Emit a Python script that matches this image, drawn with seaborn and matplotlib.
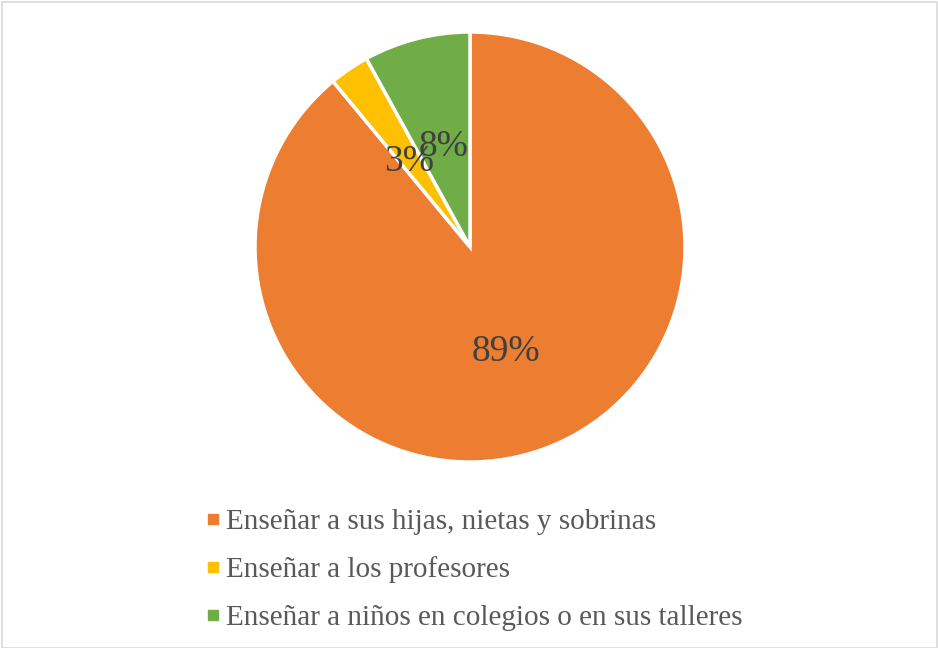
import matplotlib
matplotlib.use("Agg")
import matplotlib.pyplot as plt
from matplotlib.lines import Line2D
from matplotlib.patches import Rectangle
import seaborn as sns

categories = [
    "Enseñar a sus hijas, nietas y sobrinas",
    "Enseñar a los profesores",
    "Enseñar a niños en colegios o en sus talleres",
]
values = [89, 3, 8]
colors = ["#ED7D31", "#FFC000", "#70AD47"]

sns.set_theme(style="white")
plt.rcParams["font.family"] = ["Liberation Serif", "DejaVu Serif"]

fig = plt.figure(figsize=(9.38, 6.48), dpi=100)
ax = fig.add_axes([255 / 938, (648 - 462) / 648, 430 / 938, 430 / 648])

wedges, texts, autotexts = ax.pie(
    values,
    colors=colors,
    startangle=90,
    counterclock=False,
    autopct=lambda p: f"{p:.0f}%",
    pctdistance=0.5,
    wedgeprops=dict(edgecolor="white", linewidth=2.5),
    textprops=dict(color="#404040", fontsize=27),
)
ax.set_xlim(-1, 1)
ax.set_ylim(-1, 1)
ax.set_aspect("equal")
for t in autotexts:
    t.set_clip_on(False)
    t.set_verticalalignment("center_baseline")

handles = [
    Line2D([0], [0], marker="s", linestyle="none", markersize=6.5,
           markerfacecolor=c, markeredgecolor=c)
    for c in colors
]
leg = fig.legend(
    handles, categories,
    loc="upper left", bbox_to_anchor=(204 / 938, 1 - 509 / 648),
    frameon=False, fontsize=21, labelcolor="#595959",
    handlelength=0.6, handletextpad=0.15, labelspacing=0.72,
    borderaxespad=0, borderpad=0,
)

fig.patches.append(Rectangle((2 / 938, 0), 935 / 938, 1 - 2 / 648,
                             transform=fig.transFigure, fill=False,
                             edgecolor="#d9d9d9", linewidth=1.2))

fig.savefig("out.png", dpi=100)
